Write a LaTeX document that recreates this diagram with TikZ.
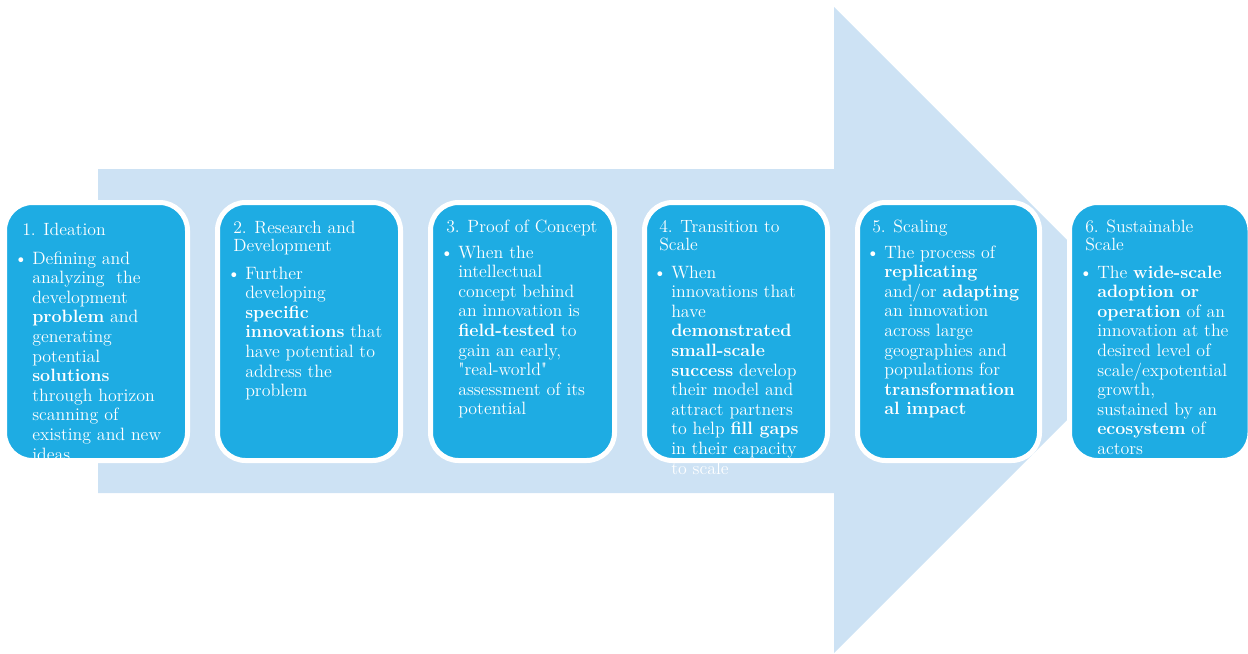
\documentclass[tikz,border=0pt]{standalone}
\definecolor{boxblue}{HTML}{1EACE3}
\definecolor{arrowblue}{HTML}{CDE2F4}
\newcommand{\bul}{\leavevmode\llap{\textbullet\kern3.4pt}}
\begin{document}
\begin{tikzpicture}[x=0.75pt,y=-0.75pt,
  stage/.style={fill=boxblue, draw=white, line width=3.75pt, rounded corners=21pt},
  ttl/.style={anchor=base west, inner sep=0pt, text=white, font=\fontsize{13.3}{14}\selectfont},
  bdy/.style={anchor=base west, inner sep=0pt, text=white, font=\fontsize{13.4}{14.7}\selectfont}]
\useasboundingbox (0,0) rectangle (1248,653);
% big arrow
\fill[arrowblue] (98,169) -- (834,169) -- (834,7) -- (1157,330) -- (834,653) -- (834,493) -- (98,493) -- cycle;
% stage boxes
\draw[stage] (4.5,202.5) rectangle (187.5,460.5);
\draw[stage] (217.5,202.5) rectangle (400.5,460.5);
\draw[stage] (430.5,202.5) rectangle (614.5,460.5);
\draw[stage] (644.5,202.5) rectangle (827.5,460.5);
\draw[stage] (857.5,202.5) rectangle (1039.5,460.5);
\draw[stage] (1069.5,202.5) rectangle (1250,460.5);
% box 1
\node[ttl] (t1) at (22,235) {1. Ideation};
\node[bdy] (b1) at (32,264) {\parbox[t]{160pt}{\raggedright\bul Defining and\\
analyzing~ the\\ development\\ \textbf{problem} and\\ generating\\ potential\\ \textbf{solutions}\\
through horizon\\ scanning of\\ existing and new\\ ideas}};
% box 2
\node[ttl] (t2) at (233,233) {\parbox[t]{160pt}{\raggedright 2. Research and\\ Development}};
\node[bdy] (b2) at (245,279) {\parbox[t]{160pt}{\raggedright\bul Further\\
developing\\ \textbf{specific}\\ \textbf{innovations} that\\ have potential to\\ address the\\ problem}};
% box 3
\node[ttl] (t3) at (446,232) {3. Proof of Concept};
\node[bdy] (b3) at (458,258) {\parbox[t]{160pt}{\raggedright\bul When the\\
intellectual\\ concept behind\\ an innovation is\\ \textbf{field-tested} to\\ gain an early,\\
\textquotedbl real-world\textquotedbl\\ assessment of its\\ potential}};
% box 4
\node[ttl] (t4) at (659,232) {\parbox[t]{160pt}{\raggedright 4. Transition to\\ Scale}};
\node[bdy] (b4) at (671,278) {\parbox[t]{160pt}{\raggedright\bul When\\
innovations that\\ have\\ \textbf{demonstrated}\\ \textbf{small-scale}\\ \textbf{success} develop\\
their model and\\ attract partners\\ to help \textbf{fill gaps}\\ in their capacity\\ to scale}};
% box 5
\node[ttl] (t5) at (872,232) {5. Scaling};
\node[bdy] (b5) at (884,258) {\parbox[t]{160pt}{\raggedright\bul The process of\\
\textbf{replicating}\\ and/or \textbf{adapting}\\ an innovation\\ across large\\ geographies and\\
populations for\\ \textbf{transformation}\\ \textbf{al impact}}};
% box 6
\node[ttl] (t6) at (1085,232) {\parbox[t]{160pt}{\raggedright 6. Sustainable\\ Scale}};
\node[bdy] (b6) at (1097,278) {\parbox[t]{160pt}{\raggedright\bul The \textbf{wide-scale}\\
\textbf{adoption or}\\ \textbf{operation} of an\\ innovation at the\\ desired level of\\ scale/expotential\\
growth,\\ sustained by an\\ \textbf{ecosystem} of\\ actors}};
\end{tikzpicture}
\end{document}
